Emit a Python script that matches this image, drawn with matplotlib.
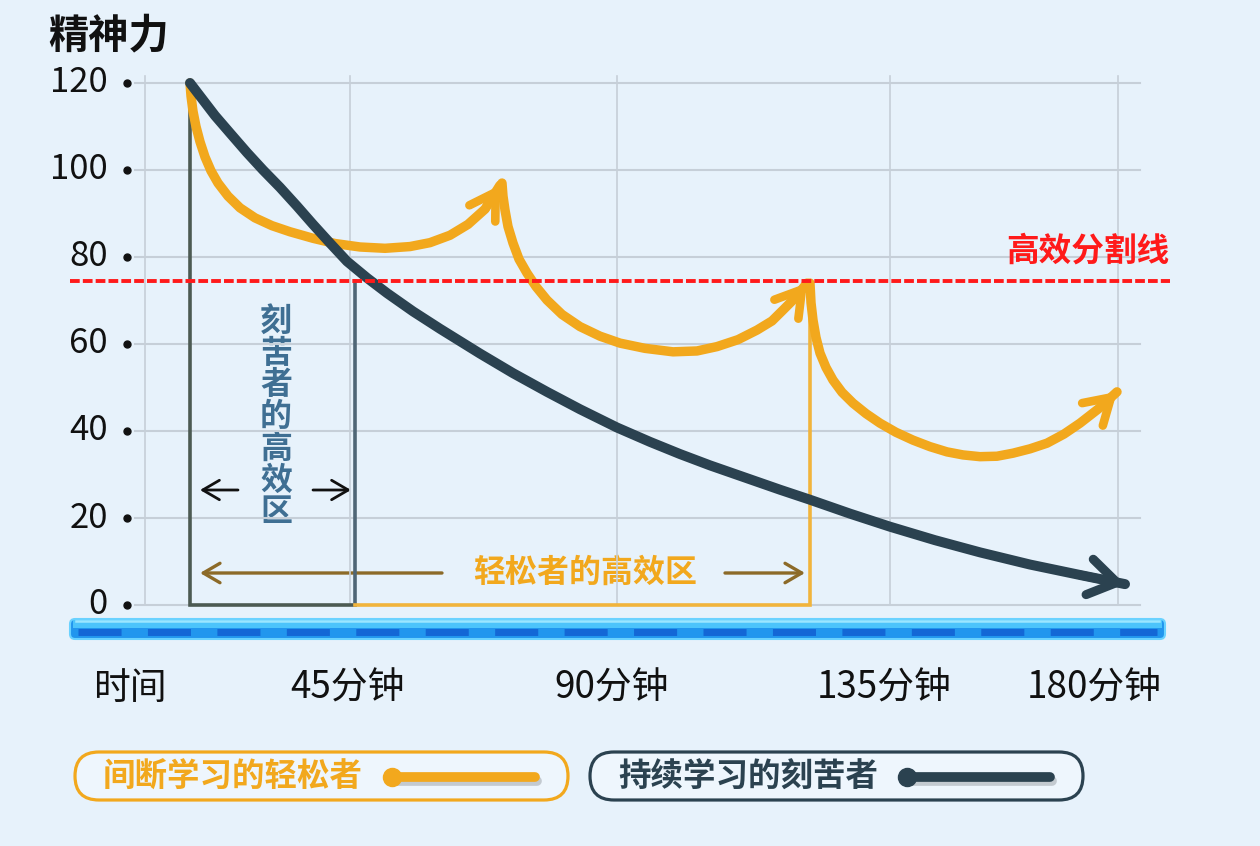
import matplotlib
matplotlib.use('Agg')
import matplotlib.pyplot as plt
from matplotlib.patches import FancyBboxPatch

plt.rcParams['font.family'] = ['Noto Sans CJK SC', 'DejaVu Sans']

# ------------------------------------------------------------------
# values
# x is in chart units (the picture is not to scale in time)
# ------------------------------------------------------------------
y_ticks = [0, 20, 40, 60, 80, 100, 120]
x_grid = [145, 350, 617, 890, 1118]
x_labels = ['时间', '45分钟', '90分钟', '135分钟', '180分钟']

# continuous study (the hard worker)
hard_x = [190, 200, 215, 230, 247, 263, 280, 297, 313, 330, 347, 367, 387,
          413, 440, 480, 513, 547, 580, 617, 650, 680, 710, 740, 780, 810,
          850, 890, 935, 980, 1030, 1080, 1125]
hard_y = [120, 117, 112.5, 108.5, 104, 100, 96, 91.7, 87.5, 83.2, 79, 75.2,
          71.7, 67.5, 63.5, 57.8, 53.3, 49, 45, 40.8, 37.5, 34.7, 32.1,
          29.7, 26.5, 24.2, 21, 18, 14.9, 12.1, 9.3, 6.9, 4.8]

# study with breaks (the relaxed one), three stretches
easy_x1 = [190, 191, 193, 196, 200, 205, 211, 218, 228, 240, 255, 272, 290,
           313, 335, 360, 385, 410, 430, 450, 468, 485, 500]
easy_y1 = [120, 117, 113.5, 110, 106.5, 103, 99.8, 97, 94, 91.3, 89, 87.2,
           85.8, 84.3, 83.1, 82.3, 82, 82.4, 83.3, 85, 87.5, 91, 96.5]
easy_x2 = [502, 503, 505, 508, 513, 519, 527, 536, 547, 562, 580, 600, 620,
           645, 673, 697, 717, 738, 757, 772, 783, 796, 807]
easy_y2 = [97, 94, 90.8, 87, 83.2, 79.5, 76.3, 73.2, 70.1, 66.8, 64, 61.8,
           60.2, 59, 58.2, 58.4, 59.4, 61, 63.2, 65.3, 67.8, 70.8, 74]
easy_x3 = [810, 811, 813, 816, 820, 826, 833, 842, 853, 866, 880, 896, 913,
           930, 947, 963, 980, 997, 1013, 1030, 1047, 1064, 1080, 1099, 1117]
easy_y3 = [74, 69.5, 65.5, 61.5, 57.9, 54.6, 51.7, 48.9, 46.4, 44, 41.8,
           39.7, 37.9, 36.4, 35.2, 34.5, 34.1, 34.2, 34.9, 35.9, 37.2, 39.3,
           41.8, 45.2, 49]

cut_line = 74.5           # 高效分割线
hard_zone = (190, 355)    # 刻苦者的高效区
easy_zone = (355, 810)    # 轻松者的高效区

BG = '#e7f2fb'
GRID = '#c6cfd8'
ORANGE = '#f2a81d'
DARK = '#2b4250'
RED = '#ff1a1a'
STEEL = '#3f6f93'
BROWN = '#8c6a28'

W, H = 1260, 846
BASE, SCALE = 605, 4.35   # pixel row of value 0, pixels per unit

fig = plt.figure(figsize=(W / 100, H / 100), dpi=100, facecolor=BG)

## decoration layer in pixel units
deco = fig.add_axes([0, 0, 1, 1])
deco.set_xlim(0, W)
deco.set_ylim(H, 0)
deco.axis('off')

## chart layer, y in value units
ax = fig.add_axes([0, 0, 1, 1])
ax.set_xlim(0, W)
ax.set_ylim((BASE - H) / SCALE, BASE / SCALE)
ax.axis('off')

# grid
for v in y_ticks:
    ax.plot([135, 1140], [v, v], color=GRID, lw=1.5, zorder=1)
    ax.text(108, v, str(v), ha='right', va='center', fontsize=25,
            color='#111111')
ax.plot([127] * len(y_ticks), y_ticks, 'o', ms=5, color='#111111')
for gx in x_grid:
    ax.plot([gx, gx], [0, 121.5], color=GRID, lw=1.2, zorder=1)

# efficiency zones
ax.plot([hard_zone[0], hard_zone[0], hard_zone[1]], [120, 0, 0],
        color='#4c5a52', lw=2.6, zorder=3, solid_joinstyle='miter')
ax.plot([hard_zone[1], hard_zone[1]], [0, cut_line], color='#4f6676',
        lw=2.6, zorder=3)
ax.plot([easy_zone[0], easy_zone[1], easy_zone[1]], [0, 0, easy_y2[-1]],
        color='#f1b43c', lw=2.6, zorder=3, solid_joinstyle='miter')

# cut line
ax.plot([70, 1170], [cut_line, cut_line], color=RED, lw=2.8,
        dashes=(2.5, 0.8), zorder=6)
ax.text(1088, (BASE - 251) / SCALE, '高效分割线', ha='center', va='center',
        fontsize=23.5, fontweight='bold', color=RED)

head = '->,head_length=0.9,head_width=0.55'
for xs, ys in [(easy_x1, easy_y1), (easy_x2, easy_y2), (easy_x3, easy_y3)]:
    ax.plot(xs, ys, color=ORANGE, lw=6.8, solid_capstyle='round',
            solid_joinstyle='round', zorder=4)
    ax.annotate('', xy=(xs[-1], ys[-1]), xytext=(xs[-2], ys[-2]),
                arrowprops=dict(arrowstyle=head, color=ORANGE, lw=6.2,
                                mutation_scale=20, shrinkA=0, shrinkB=0),
                zorder=4)

ax.plot(hard_x, hard_y, color=DARK, lw=7.2, solid_capstyle='round',
        solid_joinstyle='round', zorder=5)
ax.annotate('', xy=(hard_x[-1], hard_y[-1]), xytext=(hard_x[-2], hard_y[-2]),
            arrowprops=dict(arrowstyle='->,head_length=1.0,head_width=0.65',
                            color=DARK, lw=6.5, mutation_scale=20,
                            shrinkA=0, shrinkB=0),
            zorder=5)

# zone labels
for i, ch in enumerate('刻苦者的高效区'):
    deco.text(276, 322 + i * 31.7, ch, ha='center', va='center',
              fontsize=23, fontweight='bold', color=STEEL)
arr = dict(arrowstyle='->,head_length=0.6,head_width=0.35', color='#111111',
           lw=2, mutation_scale=20, shrinkA=0, shrinkB=0)
deco.annotate('', xy=(200, 490), xytext=(238, 490), arrowprops=arr)
deco.annotate('', xy=(351, 490), xytext=(313, 490), arrowprops=arr)

arr_b = dict(arr, color=BROWN, lw=2.4)
deco.annotate('', xy=(200, 573), xytext=(442, 573), arrowprops=arr_b)
deco.annotate('', xy=(805, 573), xytext=(725, 573), arrowprops=arr_b)
deco.text(585, 573, '轻松者的高效区', ha='center', va='center', fontsize=23,
          fontweight='bold', color=ORANGE)

# blue base bar
deco.add_patch(FancyBboxPatch((70, 619), 1095, 20,
                              boxstyle='round,pad=0,rounding_size=5',
                              fc='#2196ee', ec='#6ad2ff', lw=1.5, zorder=2))
deco.fill_between([73, 1162], 620, 628, color='#4cc4fb', lw=0, zorder=2)
deco.plot([76, 1159], [621.5, 621.5], color='#9be6ff', lw=1.8, zorder=3)
deco.plot([78, 1157], [632, 632], color='#1367d6', lw=5,
          dashes=(6.2, 3.8), zorder=3)

# x labels
for lbl, gx in zip(x_labels, [130, 347, 612, 884, 1094]):
    deco.text(gx, 688, lbl, ha='center', va='center', fontsize=26.5,
              fontweight='medium', color='#111111')

# title
deco.text(48, 36, '精神力', ha='left', va='center', fontsize=29,
          fontweight='bold', color='#111111')

# legend
legend = [('间断学习的轻松者', ORANGE, 75), ('持续学习的刻苦者', DARK, 590)]
for name, col, x0 in legend:
    deco.add_patch(FancyBboxPatch((x0, 752), 493, 48,
                                  boxstyle='round,pad=0,rounding_size=24',
                                  fc='#eef6fd', ec=col, lw=2.3, zorder=2))
    deco.text(x0 + 28, 777, name, ha='left', va='center', fontsize=23.4,
              fontweight='bold', color=col, zorder=3)
    deco.plot([x0 + 320, x0 + 462], [781, 781], color='#8f959b', lw=7,
              alpha=0.45, solid_capstyle='round', zorder=3)
    deco.plot([x0 + 317, x0 + 460], [777, 777], color=col, lw=7,
              solid_capstyle='round', zorder=4)
    deco.plot([x0 + 317], [777], 'o', ms=13, color=col, zorder=4)

fig.savefig('out.png', dpi=100, facecolor=BG)
